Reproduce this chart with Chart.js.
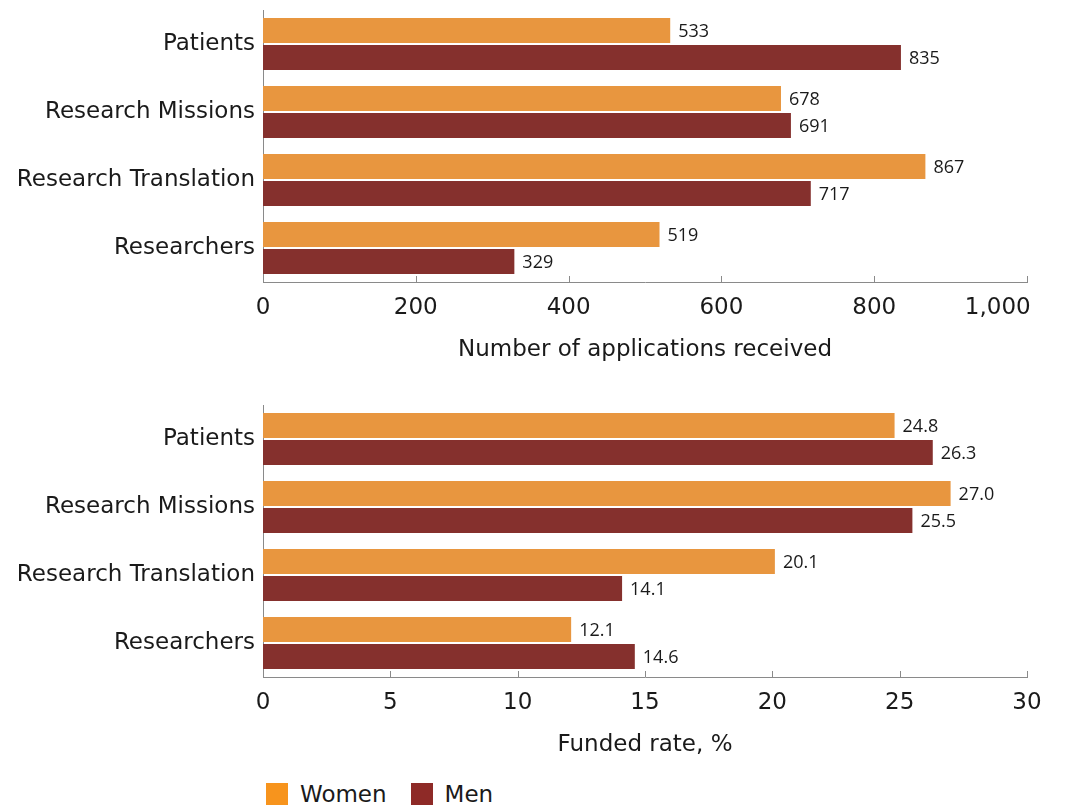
<!DOCTYPE html>
<html>
<head>
<meta charset="utf-8">
<script src="https://cdn.jsdelivr.net/npm/chart.js@4"></script>
<style>
  body { margin: 0; background: #fff; width: 1070px; height: 808px; position: relative; overflow: hidden; }
  .box { position: absolute; left: 0; width: 1070px; height: 370px; }
  .legend { position: absolute; left: 266px; top: 781px; font: 23px "DejaVu Sans", sans-serif; color: #1a1a1a; display: flex; align-items: center; }
  .legend span.sw { display: inline-block; width: 22px; height: 22px; margin-right: 12px; }
  .legend span.lb { margin-right: 24px; }
</style>
</head>
<body>
<div class="box" style="top:0"><canvas id="apps"></canvas></div>
<div class="box" style="top:395px"><canvas id="rate"></canvas></div>
<div class="legend">
  <span class="sw" style="background:#F7941D"></span><span class="lb">Women</span>
  <span class="sw" style="background:#8E2A27"></span><span class="lb">Men</span>
</div>
<script>
const categories = ["Patients", "Research Missions", "Research Translation", "Researchers"];
const appsWomen = [533, 678, 867, 519];
const appsMen = [835, 691, 717, 329];
const rateWomen = [24.8, 27.0, 20.1, 12.1];
const rateMen = [26.3, 25.5, 14.1, 14.6];

const WOMEN = "#E8963F";
const MEN = "#85302D";
const AXIS = "#8a8a8a";
const TEXT = "#1a1a1a";
const FONT = "'DejaVu Sans', sans-serif";

// value labels at the end of each bar
const valueLabels = {
  id: "valueLabels",
  afterDatasetsDraw(chart, args, opts) {
    const ctx = chart.ctx;
    ctx.save();
    ctx.font = "18px 'Open Sans', sans-serif";
    ctx.fillStyle = TEXT;
    ctx.textAlign = "left";
    ctx.textBaseline = "middle";
    chart.data.datasets.forEach((ds, i) => {
      chart.getDatasetMeta(i).data.forEach((bar, j) => {
        ctx.fillText(opts.fmt(ds.data[j]), bar.x + 8, bar.y + 1);
      });
    });
    ctx.restore();
  }
};

// small tick marks pointing into the plot
const innerTicks = {
  id: "innerTicks",
  afterDraw(chart) {
    const x = chart.scales.x;
    const ctx = chart.ctx;
    ctx.save();
    ctx.strokeStyle = AXIS;
    ctx.lineWidth = 1;
    x.ticks.forEach(t => {
      const px = Math.round(x.getPixelForValue(t.value)) + 0.5;
      ctx.beginPath();
      ctx.moveTo(px, x.top);
      ctx.lineTo(px, x.top - 6);
      ctx.stroke();
    });
    ctx.restore();
  }
};

function makeChart(id, women, men, max, step, title, fmt, tickFmt) {
  const ctx = document.getElementById(id).getContext("2d");
  return new Chart(ctx, {
    type: "bar",
    data: {
      labels: categories,
      datasets: [
        { label: "Women", data: women, backgroundColor: WOMEN, categoryPercentage: 0.8, barPercentage: 0.92 },
        { label: "Men", data: men, backgroundColor: MEN, categoryPercentage: 0.8, barPercentage: 0.92 }
      ]
    },
    options: {
      indexAxis: "y",
      responsive: true,
      maintainAspectRatio: false,
      animation: false,
      layout: { padding: { top: 10, right: 43, left: 0, bottom: 0 } },
      plugins: {
        legend: { display: false },
        tooltip: { enabled: false },
        valueLabels: { fmt: fmt }
      },
      scales: {
        x: {
          min: 0,
          max: max,
          grid: { display: false, tickLength: 0 },
          border: { display: true, color: AXIS },
          ticks: { stepSize: step, color: TEXT, padding: 12, font: { family: FONT, size: 23 }, callback: tickFmt },
          title: { display: true, text: title, color: TEXT, padding: { top: 0, bottom: 6 }, font: { family: FONT, size: 23 } },
          afterFit(scale) { scale.height = 88; scale.paddingLeft = 0; scale.paddingRight = 0; }
        },
        y: {
          grid: { display: false, tickLength: 0 },
          border: { display: true, color: AXIS },
          ticks: { color: TEXT, padding: 8, font: { family: FONT, size: 23 } },
          afterFit(scale) { scale.width = 263; scale.paddingTop = 0; scale.paddingBottom = 0; }
        }
      }
    },
    plugins: [valueLabels, innerTicks]
  });
}

// the last tick label sits left of its tick so it stays inside the picture
makeChart("apps", appsWomen, appsMen, 1000, 200, "Number of applications received",
  v => v.toString(),
  v => v === 1000 ? "1,000\u00a0\u00a0\u00a0\u00a0\u00a0\u00a0\u00a0\u00a0" : v.toLocaleString("en-US"));
makeChart("rate", rateWomen, rateMen, 30, 5, "Funded rate, %",
  v => v.toFixed(1),
  v => v.toString());
</script>
</body>
</html>
